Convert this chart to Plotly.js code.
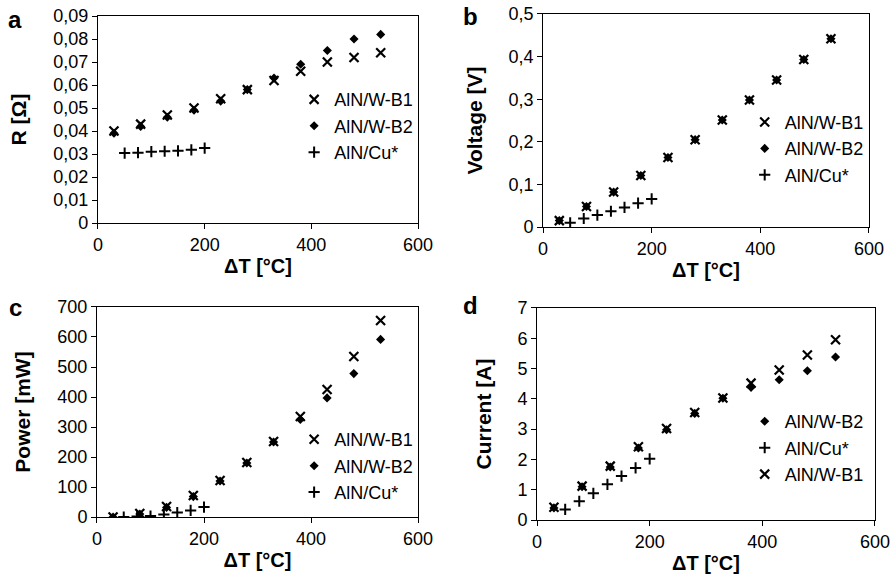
<!DOCTYPE html>
<html><head><meta charset="utf-8">
<script src="https://cdn.plot.ly/plotly-3.0.1.min.js"></script>
<style>html,body{margin:0;padding:0;background:#fff}#g{width:894px;height:580px}</style>
</head><body><div id="g"></div>
<script>
// Temperature differences
const dT_W = [30, 80, 130, 180, 230, 280, 330, 380, 430, 480, 530];
const dT_Cu = [50, 75, 100, 125, 150, 175, 200];
const seriesNames = ["AlN/W-B1", "AlN/W-B2", "AlN/Cu*"];

// a: resistance [Ohm]
const R_B1 = [0.040, 0.043, 0.047, 0.050, 0.054, 0.058, 0.062, 0.066, 0.070, 0.072, 0.074];
const R_B2 = [0.039, 0.042, 0.046, 0.049, 0.053, 0.058, 0.063, 0.069, 0.075, 0.080, 0.082];
const R_Cu = [0.0304, 0.0306, 0.0310, 0.0312, 0.0314, 0.0318, 0.0326];

// b: voltage [V]
const V_B1 = [0.015, 0.048, 0.082, 0.121, 0.163, 0.205, 0.251, 0.298, 0.345, 0.393, 0.442];
const V_B2 = [0.015, 0.048, 0.082, 0.121, 0.163, 0.205, 0.251, 0.298, 0.345, 0.393, 0.442];
const V_Cu = [0.010, 0.020, 0.028, 0.037, 0.046, 0.056, 0.066];

// c: power [mW]
const P_B1 = [0, 12, 35, 72, 122, 182, 252, 335, 425, 535, 655];
const P_B2 = [0, 10, 32, 68, 120, 180, 250, 325, 397, 478, 592];
const P_Cu = [0, 2, 3, 8, 15, 22, 33];

// d: current [A]
const I_B1 = [0.42, 1.12, 1.78, 2.42, 3.02, 3.55, 4.03, 4.52, 4.95, 5.45, 5.95];
const I_B2 = [0.40, 1.10, 1.75, 2.38, 2.98, 3.52, 4.02, 4.38, 4.63, 4.93, 5.38];
const I_Cu = [0.35, 0.62, 0.88, 1.18, 1.45, 1.72, 2.02];

const FONT = "Liberation Sans, Arial, sans-serif";
const mB1 = {symbol: "x-thin-open", size: 9, color: "#000", line: {color: "#000", width: 2.2}};
const mB2 = {symbol: "diamond", size: 7, color: "#000", line: {width: 0}};
const mCu = {symbol: "cross-thin-open", size: 8, color: "#000", line: {color: "#000", width: 2}};

function tr(x, y, name, marker, xa, ya, lg, rank) {
  return {type: "scatter", mode: "markers", x: x, y: y, name: name, marker: marker,
          xaxis: xa, yaxis: ya, legend: lg, legendrank: rank, hoverinfo: "skip"};
}

const data = [
  tr(dT_W, R_B2, seriesNames[1], mB2, "x", "y", "legend", 2),
  tr(dT_W, R_B1, seriesNames[0], mB1, "x", "y", "legend", 1),
  tr(dT_Cu, R_Cu, seriesNames[2], mCu, "x", "y", "legend", 3),

  tr(dT_W, V_B2, seriesNames[1], mB2, "x2", "y2", "legend2", 2),
  tr(dT_W, V_B1, seriesNames[0], mB1, "x2", "y2", "legend2", 1),
  tr(dT_Cu, V_Cu, seriesNames[2], mCu, "x2", "y2", "legend2", 3),

  tr(dT_W, P_B2, seriesNames[1], mB2, "x3", "y3", "legend3", 2),
  tr(dT_W, P_B1, seriesNames[0], mB1, "x3", "y3", "legend3", 1),
  tr(dT_Cu, P_Cu, seriesNames[2], mCu, "x3", "y3", "legend3", 3),

  tr(dT_W, I_B2, seriesNames[1], mB2, "x4", "y4", "legend4", 1),
  tr(dT_Cu, I_Cu, seriesNames[2], mCu, "x4", "y4", "legend4", 2),
  tr(dT_W, I_B1, seriesNames[0], mB1, "x4", "y4", "legend4", 3)
];

function xax(dom, anchor) {
  return {domain: dom, anchor: anchor, range: [0, 600], dtick: 200, tick0: 0,
    showgrid: false, zeroline: false, showline: true, mirror: true, linecolor: "#000", linewidth: 1,
    ticks: "outside", ticklen: 5, tickcolor: "#000",
    tickfont: {family: FONT, size: 18, color: "#000"},
    title: {text: "ΔT [°C]", font: {family: FONT, size: 20, color: "#000", weight: "bold"}, standoff: 5}};
}
function yax(dom, anchor, range, dtick, title) {
  return {domain: dom, anchor: anchor, range: range, dtick: dtick, tick0: 0,
    showgrid: false, zeroline: false, showline: true, mirror: true, linecolor: "#000", linewidth: 1,
    ticks: "outside", ticklen: 5, tickcolor: "#000",
    tickfont: {family: FONT, size: 18, color: "#000"},
    title: {text: title, font: {family: FONT, size: 21, color: "#000", weight: "bold"}, standoff: 20}};
}
function leg(x, y) {
  return {x: x, y: y, xanchor: "left", yanchor: "top", bgcolor: "rgba(0,0,0,0)",
    font: {family: FONT, size: 18, color: "#000"}, itemwidth: 30, tracegroupgap: 0};
}
function letter(t, x, y) {
  return {text: "<b>" + t + "</b>", x: x, y: y, xref: "paper", yref: "paper",
    xanchor: "center", yanchor: "middle", showarrow: false,
    font: {family: FONT, size: 24, color: "#000"}};
}

const layout = {
  width: 894, height: 580, margin: {l: 0, r: 0, t: 0, b: 0},
  paper_bgcolor: "#fff", plot_bgcolor: "#fff", separators: ", ",
  showlegend: true, font: {family: FONT, color: "#000"},
  xaxis: xax([0.1096, 0.4676], "y"),
  yaxis: yax([0.6155, 0.9724], "x", [0, 0.09], 0.01, "R [Ω]"),
  xaxis2: xax([0.6074, 0.9720], "y2"),
  yaxis2: yax([0.6086, 0.9759], "x2", [0, 0.5], 0.1, "Voltage [V]"),
  xaxis3: xax([0.1085, 0.4676], "y3"),
  yaxis3: yax([0.1086, 0.4707], "x3", [0, 700], 100, "Power [mW]"),
  xaxis4: xax([0.6007, 0.9787], "y4"),
  yaxis4: yax([0.1034, 0.4690], "x4", [0, 7], 1, "Current [A]"),
  legend: leg(0.329, 0.86),
  legend2: leg(0.833, 0.821),
  legend3: leg(0.329, 0.274),
  legend4: leg(0.833, 0.305),
  annotations: [letter("a", 0.017, 0.967), letter("b", 0.526, 0.972), letter("c", 0.017, 0.469), letter("d", 0.526, 0.474)]
};

Plotly.newPlot("g", data, layout, {staticPlot: true, displayModeBar: false});
</script></body></html>
